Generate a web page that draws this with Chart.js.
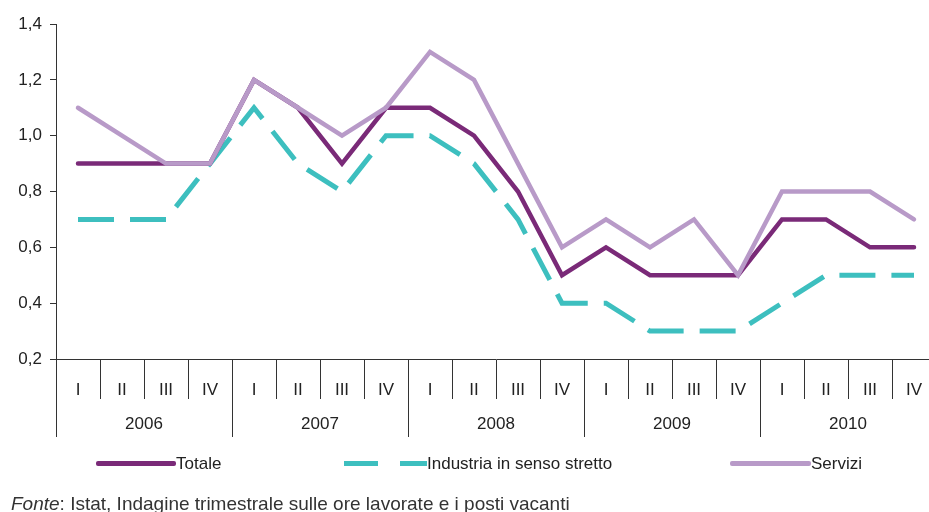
<!DOCTYPE html>
<html>
<head>
<meta charset="utf-8">
<script src="https://cdn.jsdelivr.net/npm/chart.js@4/dist/chart.umd.min.js"></script>
<style>
html,body{margin:0;padding:0;background:#fff;overflow:hidden}
#wrap{position:relative;width:929px;height:512px;overflow:hidden}
#wrap canvas{position:absolute;left:0;top:0}
.leg{position:absolute;top:455px;font:17px "Liberation Sans",Arial,sans-serif;color:#222;white-space:nowrap;line-height:18px}
.sw{position:absolute;height:5px;top:461px;border-radius:2px}
#fonte{position:absolute;left:11px;top:494px;font:19px "Liberation Sans",Arial,sans-serif;line-height:19px;color:#333;white-space:nowrap}
</style>
</head>
<body>
<div id="wrap">
  <canvas id="chart" width="936" height="512"></canvas>
  <div class="sw" style="left:96px;width:80px;background:#7a2a78"></div>
  <div class="leg" style="left:176px">Totale</div>
  <div class="sw" style="left:344px;width:34px;background:#3dbfbf;border-radius:0"></div>
  <div class="sw" style="left:400px;width:27px;background:#3dbfbf;border-radius:0"></div>
  <div class="leg" style="left:427px">Industria in senso stretto</div>
  <div class="sw" style="left:730px;width:81px;background:#b89ac8"></div>
  <div class="leg" style="left:811px">Servizi</div>
  <div id="fonte"><i>Fonte</i>: Istat, Indagine trimestrale sulle ore lavorate e i posti vacanti</div>
</div>
<script>
// Dati trimestrali 2006-2010
const years = ['2006', '2007', '2008', '2009', '2010'];
const quarters = ['I', 'II', 'III', 'IV'];
const totale    = [0.9, 0.9, 0.9, 0.9,  1.2, 1.1, 0.9, 1.1,  1.1, 1.0, 0.8, 0.5,  0.6, 0.5, 0.5, 0.5,  0.7, 0.7, 0.6, 0.6];
const industria = [0.7, 0.7, 0.7, 0.9,  1.1, 0.9, 0.8, 1.0,  1.0, 0.9, 0.7, 0.4,  0.4, 0.3, 0.3, 0.3,  0.4, 0.5, 0.5, 0.5];
const servizi   = [1.1, 1.0, 0.9, 0.9,  1.2, 1.1, 1.0, 1.1,  1.3, 1.2, 0.9, 0.6,  0.7, 0.6, 0.7, 0.5,  0.8, 0.8, 0.8, 0.7];
const yTicks = [0.2, 0.4, 0.6, 0.8, 1.0, 1.2, 1.4];

const labels = years.flatMap(y => quarters.map(q => y + ' ' + q));
const FONT = '"Liberation Sans", Arial, sans-serif';
const AXIS = '#333';

// Secondo livello dell'asse: anni
const yearAxis = {
  id: 'yearAxis',
  afterDraw(chart){
    const { ctx, chartArea: a, scales: { x } } = chart;
    const step = x.getPixelForValue(1) - x.getPixelForValue(0);
    ctx.save();
    ctx.strokeStyle = AXIS;
    ctx.lineWidth = 1;
    ctx.fillStyle = '#222';
    ctx.font = '17px ' + FONT;
    ctx.textAlign = 'center';
    ctx.textBaseline = 'middle';
    years.forEach((yr, i) => {
      const x0 = x.getPixelForValue(i * 4) - step / 2;
      const x1 = x.getPixelForValue(i * 4 + 3) + step / 2;
      [x0, x1].forEach(px => {
        const p = Math.round(px) + 0.5;
        ctx.beginPath();
        ctx.moveTo(p, a.bottom);
        ctx.lineTo(p, a.bottom + 78);
        ctx.stroke();
      });
      ctx.fillText(yr, (x0 + x1) / 2, a.bottom + 65);
    });
    ctx.restore();
  }
};

new Chart(document.getElementById('chart'), {
  type: 'line',
  data: {
    labels,
    datasets: [
      { label: 'Totale', data: totale, borderColor: '#7a2a78', borderWidth: 4.5, borderCapStyle: 'round', order: 1 },
      { label: 'Industria in senso stretto', data: industria, borderColor: '#3dbfbf', borderWidth: 5, borderDash: [36, 16], order: 2 },
      { label: 'Servizi', data: servizi, borderColor: '#b89ac8', borderWidth: 4.5, borderCapStyle: 'round', order: 0 }
    ]
  },
  options: {
    responsive: false,
    animation: false,
    layout: { padding: { top: 24, bottom: 113, right: 0, left: 0 } },
    elements: { point: { radius: 0 }, line: { tension: 0, fill: false } },
    plugins: { legend: { display: false }, tooltip: { enabled: false } },
    scales: {
      x: {
        offset: true,
        afterFit: s => { s.height = 40; },
        grid: { offset: true, drawOnChartArea: false, tickLength: 40, color: AXIS },
        border: { color: AXIS },
        ticks: {
          padding: -19,
          maxRotation: 0,
          autoSkip: false,
          color: '#222',
          font: { family: FONT, size: 17 },
          callback: (v, i) => quarters[i % 4]
        }
      },
      y: {
        min: 0.2,
        max: 1.4,
        afterFit: s => { s.width = 56; },
        afterBuildTicks: s => { s.ticks = yTicks.map(v => ({ value: v })); },
        grid: { drawOnChartArea: false, tickLength: 6, color: AXIS },
        border: { color: AXIS },
        ticks: {
          padding: 8,
          color: '#222',
          font: { family: FONT, size: 17 },
          callback: v => v.toFixed(1).replace('.', ',')
        }
      }
    }
  },
  plugins: [yearAxis]
});
</script>
</body>
</html>
